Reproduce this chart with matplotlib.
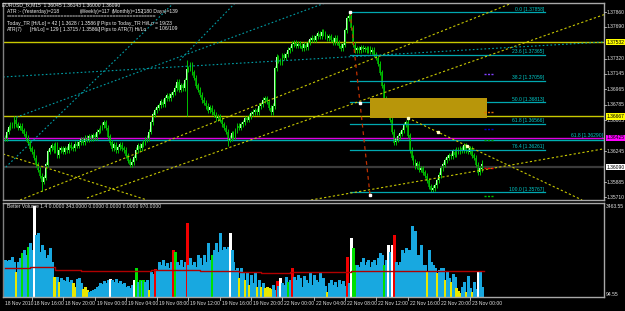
import numpy as np
import matplotlib.pyplot as plt

W, H = 625, 311
BG = "black"
FONT = ["Liberation Sans", "DejaVu Sans"]
FS = 3.6

# EURUSD M15, bars numbered from 18 Nov 12:00 (16 bars = 4 hours)
first_bar = 2
closes = [
    1.3640, 1.3647, 1.3652, 1.3655, 1.3654, 1.3661, 1.3656, 1.3652, 1.3654, 1.3649,
    1.3645, 1.3640, 1.3635, 1.3628, 1.3624, 1.3617, 1.3609, 1.3603, 1.3596, 1.3589,
    1.3594, 1.3609, 1.3624, 1.3628, 1.3631, 1.3626, 1.3632, 1.3620, 1.3626, 1.3628,
    1.3624, 1.3628, 1.3626, 1.3632, 1.3629, 1.3628, 1.3633, 1.3631, 1.3635, 1.3638,
    1.3635, 1.3640, 1.3638, 1.3642, 1.3640, 1.3643, 1.3641, 1.3647, 1.3649, 1.3652,
    1.3655, 1.3658, 1.3652, 1.3642, 1.3635, 1.3628, 1.3632, 1.3626, 1.3629, 1.3632,
    1.3628, 1.3626, 1.3620, 1.3614, 1.3609, 1.3612, 1.3617, 1.3626, 1.3631, 1.3628,
    1.3632, 1.3635, 1.3638, 1.3640, 1.3647, 1.3658, 1.3667, 1.3672, 1.3675, 1.3678,
    1.3682, 1.3679, 1.3686, 1.3689, 1.3686, 1.3690, 1.3693, 1.3698, 1.3705, 1.3696,
    1.3701, 1.3698, 1.3707, 1.3719, 1.3721, 1.3725, 1.3716, 1.3710, 1.3701, 1.3696,
    1.3690, 1.3684, 1.3681, 1.3677, 1.3672, 1.3675, 1.3670, 1.3667, 1.3663, 1.3665,
    1.3661, 1.3656, 1.3652, 1.3647, 1.3638, 1.3640, 1.3645, 1.3642, 1.3649, 1.3654,
    1.3652, 1.3656, 1.3658, 1.3663, 1.3661, 1.3665, 1.3668, 1.3670, 1.3672, 1.3670,
    1.3677, 1.3679, 1.3684, 1.3686, 1.3682, 1.3675, 1.3670, 1.3677, 1.3721, 1.3733,
    1.3730, 1.3728, 1.3736, 1.3733, 1.3737, 1.3742, 1.3744, 1.3749, 1.3751, 1.3747,
    1.3749, 1.3747, 1.3744, 1.3748, 1.3745, 1.3751, 1.3754, 1.3756, 1.3754, 1.3758,
    1.3761, 1.3758, 1.3763, 1.3761, 1.3758, 1.3756, 1.3758, 1.3754, 1.3751, 1.3756,
    1.3751, 1.3747, 1.3744, 1.3748, 1.3765, 1.3779, 1.3781, 1.3768, 1.3748, 1.3742,
    1.3744, 1.3742, 1.3745, 1.3743, 1.3744, 1.3742, 1.3744, 1.3740, 1.3742, 1.3737,
    1.3733, 1.3726, 1.3716, 1.3701, 1.3686, 1.3677, 1.3670, 1.3661, 1.3647, 1.3635,
    1.3638, 1.3642, 1.3645, 1.3649, 1.3656, 1.3658, 1.3643, 1.3626, 1.3617, 1.3612,
    1.3607, 1.3610, 1.3603, 1.3605, 1.3600, 1.3596, 1.3591, 1.3584, 1.3580, 1.3582,
    1.3585, 1.3591, 1.3597, 1.3605, 1.3609, 1.3614, 1.3617, 1.3620, 1.3619, 1.3624,
    1.3621, 1.3626, 1.3624, 1.3628, 1.3626, 1.3631, 1.3626, 1.3624, 1.3628, 1.3620,
    1.3617, 1.3609, 1.3600, 1.36045, 1.36090,
]
# wick extremes that stand out from the bodies
wick_hi = {7: 1.3665, 95: 1.3730, 141: 1.3737, 178: 1.37858, 208: 1.3663, 246: 1.36143}
wick_lo = {21: 1.3579, 95: 1.3665, 116: 1.3631, 221: 1.35767, 246: 1.3600}

# Better Volume 1.4
volumes = [
    1386, 1348, 1386, 1309, 1502, 1309, 924, 1309, 1463, 1656,
    1771, 1579, 1887, 2041, 1771, 3463, 2349, 2426, 1694, 1964,
    1771, 1463, 1579, 1848, 1309, 732, 655, 732, 539, 693,
    616, 578, 732, 539, 616, 501, 347, 655, 693, 501,
    270, 347, 231, 154, 193, 231, 270, 347, 385, 501,
    462, 578, 501, 616, 655, 616, 539, 655, 501, 578,
    462, 501, 347, 385, 308, 424, 616, 1078, 539, 616,
    578, 616, 539, 616, 231, 924, 847, 1040, 1001, 1309,
    1194, 1386, 1155, 1271, 1078, 1309, 1771, 1694, 1309, 1194,
    1386, 1117, 1309, 2811, 1194, 1463, 1194, 1309, 1117, 1579,
    1463, 1194, 1579, 1309, 2041, 1386, 1579, 1771, 2041, 1694,
    2426, 1771, 1887, 1810, 1887, 2426, 1771, 1309, 1001, 1078,
    693, 1078, 924, 616, 924, 424, 809, 501, 924, 347,
    616, 347, 501, 308, 347, 308, 270, 424, 231, 578,
    385, 693, 501, 424, 732, 539, 616, 1078, 732, 616,
    809, 693, 347, 770, 616, 501, 924, 424, 809, 616,
    539, 886, 462, 693, 385, 154, 501, 616, 424, 539,
    347, 616, 462, 578, 385, 1502, 501, 2233, 1848, 1194,
    1194, 1117, 1309, 1463, 1194, 1309, 1386, 1117, 1309, 1386,
    1194, 1463, 1656, 1579, 1194, 1386, 1964, 1694, 1964, 2349,
    1309, 1194, 1309, 1771, 1656, 1848, 1771, 1771, 2695, 2195,
    2503, 1579, 1579, 1964, 1194, 1194, 963, 1771, 1309, 1194,
    1078, 886, 1001, 1078, 1078, 616, 924, 693, 539, 847,
    732, 308, 193, 116, 347, 539, 154, 770, 308, 154,
    539, 270, 924, 963, 343,
]
# b blue, y yellow, g green, w white, r red (10 bars per group)
vol_colors = "".join([
    "bbbbbbybbg", "bbgbbwbbbb", "bbbbbyybyb", "bbbbbyybbb", "yyybbbbbbb",
    "bbbbwbbbbb", "bbbbbbwgbg", "bgbbybbrbb", "bbbbbbrgbb", "bbbrbbbbbb",
    "bbbbbbgbbb", "bbbbbwbbbb", "ybbybybbby", "bybyyyybbr", "bwbbbgbrbb",
    "bbbbbbbbbb", "bbbbbybbbb", "bbbbbrbwgg", "bbbbbbbbbb", "bbbbgbwbwr",
    "bbbbbbbbbb", "bbbbbbybbb", "bybbbybbyb", "byyybbybby", "bbwbb",
])
ma_from = [2, 15, 28, 41, 77, 102, 122, 133, 148, 179, 247]
ma_vals = [1078, 1117, 1001, 963, 1001, 963, 924, 886, 924, 963, 963]

time_bars = [16 * k for k in range(16)]
time_labels = ["18 Nov 2010", "18 Nov 16:00", "18 Nov 20:00", "19 Nov 00:00",
               "19 Nov 04:00", "19 Nov 08:00", "19 Nov 12:00", "19 Nov 16:00",
               "19 Nov 20:00", "22 Nov 00:00", "22 Nov 04:00", "22 Nov 08:00",
               "22 Nov 12:00", "22 Nov 16:00", "22 Nov 20:00", "23 Nov 00:00"]

price_ticks = [1.37860, 1.37690, 1.37320, 1.37145, 1.36965, 1.36785, 1.36605,
               1.36245, 1.35885, 1.35710]
# horizontal lines with their marked price labels
hlines = [(1.37510, "1.37532", "#c8c800", "#ffff00"),
          (1.36650, "1.36667", "#c8c800", "#ffff00"),
          (1.36400, "1.36425", "#e000e0", "#ff00ff"),
          (1.36060, "1.36090", "#3a3a3a", "#ffffff")]

# fibonacci retracement 1.37858 -> 1.35767
fib_levels = ["0.0", "23.6", "38.2", "50.0", "61.8", "76.4", "100.0"]
fib_prices = [1.37858, 1.37365, 1.37059, 1.36813, 1.36566, 1.36261, 1.35767]

# trend lines: ((bar, price), (bar, price))
yellow_lines = [((9.9, 1.3568), (264.0, 1.37988)),
                ((44.1, 1.35703), (308.4, 1.3783)),
                ((1.2, 1.36214), (74.8, 1.3568)),
                ((208.2, 1.36631), (297.2, 1.3568)),
                ((158.6, 1.3568), (308.4, 1.36274))]
teal_lines = [((1.2, 1.37107), (308.4, 1.37513)),
              ((1.2, 1.3603), (90.0, 1.3800)),
              ((91.5, 1.3730), (121.3, 1.3800)),
              ((8.0, 1.3664), (170.0, 1.3800))]


def px(x, y):
    return x / W, 1 - y / H


fig = plt.figure(figsize=(W / 100, H / 100), dpi=100, facecolor=BG)
ax = fig.add_axes([3 / W, 1 - 200 / H, 601 / W, 197 / H], facecolor=BG)
av = fig.add_axes([3 / W, 1 - 297 / H, 601 / W, 94 / H], facecolor=BG)
xlim = (1.18, 308.4)

bars = np.arange(first_bar, first_bar + len(closes))
c = np.array(closes)
o = np.concatenate([[c[0]], c[:-1]])
hi = np.maximum(o, c) + 0.0003
lo = np.minimum(o, c) - 0.0003
for b, v in wick_hi.items():
    hi[b - first_bar] = v
for b, v in wick_lo.items():
    lo[b - first_bar] = v

ax.vlines(bars, lo, hi, color="#00c000", lw=0.7)
up = c >= o
ax.bar(bars[up], (c - o)[up] + 0.00004, bottom=o[up], width=0.9, color="#b8ffb8", lw=0)
ax.bar(bars[~up], (c - o)[~up] - 0.00004, bottom=o[~up], width=0.9, color="#009000", lw=0)

for p, lab, col, bg in hlines:
    ax.axhline(p, color=col, lw=1.0 if col != "#3a3a3a" else 1.6, zorder=1)
ax.axhline(1.36380, color="#00b0b0", lw=1.0, zorder=1)
ax.text(308, 1.36395, "61.8 [1.36290]", color="#00c8c8", fontsize=FS,
        family=FONT, ha="right", va="bottom")

x0, x1 = 178.6, 278.3
for lev, p in zip(fib_levels, fib_prices):
    ax.plot([x0, x1], [p, p], color="#00a8b0", lw=0.9, zorder=2)
    ax.text(x1 - 0.5, p + 0.00008, "%s [%.5f]" % (lev, p), color="#00c8c8",
            fontsize=FS, family=FONT, ha="right", va="bottom")

ax.add_patch(plt.Rectangle((188.8, 1.36631), 248.6 - 188.8, 1.36863 - 1.36631,
                           color="#b8960a", zorder=3, lw=0))

for (a, pa), (b, pb) in yellow_lines:
    ax.plot([a, b], [pa, pb], color="#c8c800", lw=0.8, ls=(0, (2, 2)), zorder=2)
for (a, pa), (b, pb) in teal_lines:
    ax.plot([a, b], [pa, pb], color="#00a0a8", lw=0.8, ls=(0, (1.5, 2)), zorder=2)

ax.plot([178.6, 188.8], [1.37861, 1.35738], color="#c03000", lw=0.9, ls=(0, (3, 3)), zorder=4)
ax.plot([178.6, 183.7, 188.8], [1.37861, 1.36800, 1.35738], ls="none", marker="s",
        ms=1.6, mfc="white", mec="white", zorder=5)
ax.plot([208.2, 223.6, 238.4], [1.36631, 1.36470, 1.36306], ls="none", marker="s",
        ms=1.4, mfc="#ffffc0", mec="#ffffc0", zorder=5)

marks = [(1.3714, "#8040ff"), (1.3670, "#e07000"), (1.3650, "#0000c0"),
         (1.3638, "#00a000"), (1.3605, "#ff0000"), (1.3573, "#00c000")]
for p, col in marks:
    ax.plot([247, 252], [p, p], color=col, lw=1.0, ls=(0, (1.5, 1)), zorder=5)

ax.set_xlim(*xlim)
ax.set_ylim(1.3568, 1.37965)

# volume panel
cmap = {"b": "#18a8e0", "y": "#e8e800", "g": "#00e000", "w": "#ffffff", "r": "#f00000"}
vbars = np.arange(first_bar, first_bar + len(volumes))
av.vlines(vbars, 0, volumes, colors=[cmap[k] for k in vol_colors], lw=1.0,
          capstyle="butt", antialiased=False)
av.step(ma_from, ma_vals, where="post", color="#b00000", lw=1.0)
av.set_xlim(*xlim)
av.set_ylim(-38.5, 3580)

for a in (ax, av):
    a.set_xticks([])
    a.set_yticks([])
    for s in a.spines.values():
        s.set_color("#a8a8a8")
        s.set_linewidth(1.0)
    a.spines["left"].set_color("#808080")

for b, lab in zip(time_bars, time_labels):
    xf = 3 / W + (b - xlim[0]) / (xlim[1] - xlim[0]) * 601 / W
    if b > 0:
        fig.lines.append(plt.Line2D([xf, xf], [1 - 297 / H, 1 - 300 / H],
                                    transform=fig.transFigure, color="#c0c0c0", lw=0.6))
    fig.text(max(xf, 3 / W) + 2 / W, 1 - 303.5 / H, lab, color="#e0e0e0",
             fontsize=FS, family=FONT, va="center", ha="left")

ylo, yhi = 1.3568, 1.37965


def price_y(p):
    return 1 - (3 + (yhi - p) / (yhi - ylo) * 197) / H


for p in price_ticks:
    fig.text(607 / W, price_y(p), "%.5f" % p, color="#e0e0e0", fontsize=FS,
             family=FONT, va="center", ha="left")
    fig.lines.append(plt.Line2D([604 / W, 606 / W], [price_y(p)] * 2,
                                transform=fig.transFigure, color="#c0c0c0", lw=0.6))
for p, lab, col, bg in hlines:
    fig.text(607 / W, price_y(p), lab, color="black", fontsize=FS, family=FONT,
             va="center", ha="left",
             bbox=dict(boxstyle="square,pad=0.15", fc=bg, ec="none"))

fig.text(*px(606, 206), "3463.55", color="#e0e0e0", fontsize=FS, family=FONT, va="center")
fig.text(*px(606, 295), "94.55", color="#e0e0e0", fontsize=FS, family=FONT, va="center")
fig.text(*px(7, 207), "Better Volume 1.4 0.0000 343.0000 0.0000 0.0000 0.0000 970.0000",
         color="#e0e0e0", fontsize=FS, family=FONT, va="center")

info = [
    (2, 5, "EURUSD_fx,M15  1.36045 1.36143 1.36000 1.36090"),
    (7, 11, "ATR :- (Yesterday)=218"), (80, 11, "(Weekly)=117"),
    (112, 11, "(Monthly)=152"), (142, 11, "(180 Days)=139"),
    (7, 16.5, "=" * 52),
    (7, 23, "Today_TR [Hi/Lo] = 42 [ 1.3628 / 1.3586 ]"),
    (97, 23, "// Pips to Today_TR Hi/Lo = 19/23"),
    (7, 29, "ATR(7)"), (30, 29, "[Hi/Lo] = 129 [ 1.3715 / 1.3586 ]"),
    (97, 29, "// Pips to ATR(7) Hi/Lo"), (155, 29, "= 106/109"),
]
for x, y, s in info:
    fig.text(*px(x, y), s, color="#f0f0f0", fontsize=FS, family=FONT, va="center")

fig.savefig("out.png", dpi=100, facecolor=BG)
